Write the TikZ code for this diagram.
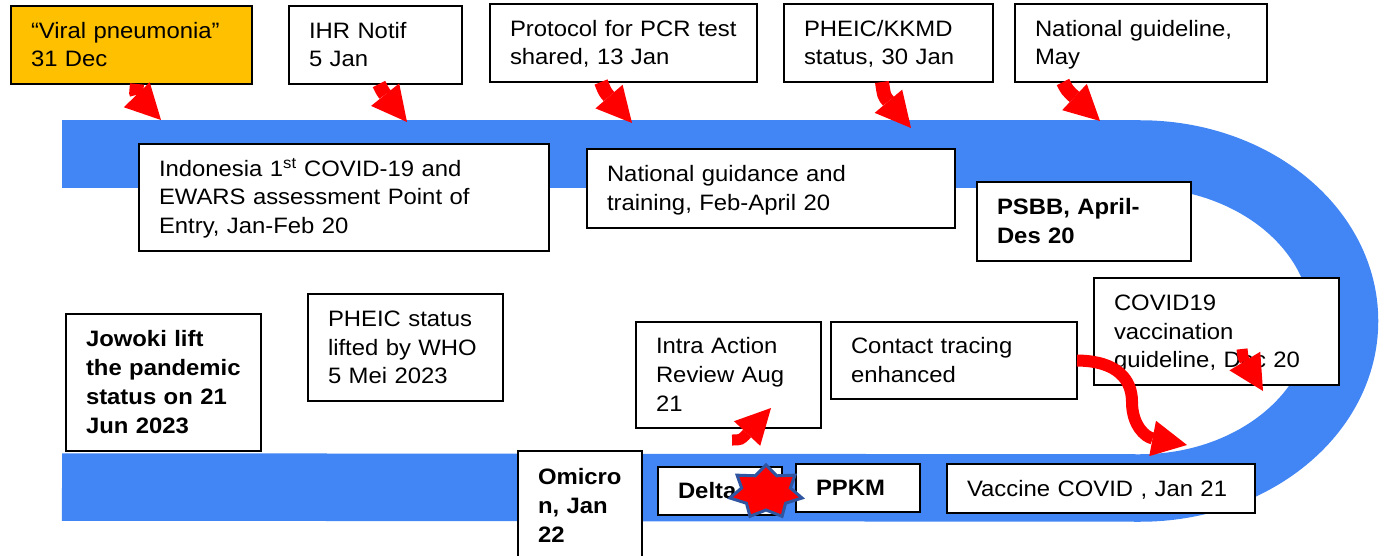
\documentclass[tikz,border=0pt]{standalone}
\usepackage{fontspec}
\setmainfont{Liberation Sans}[FakeStretch=1.07]
\usetikzlibrary{arrows.meta,calc}
\definecolor{bandblue}{RGB}{66,133,244}
\definecolor{gold}{RGB}{255,192,0}
\definecolor{starblue}{RGB}{47,85,160}
\newcommand\mystrut{\rule[-5pt]{0pt}{25pt}}
\begin{document}
\begin{tikzpicture}[x=1pt,y=-1pt,
  box/.style={draw=black, line width=1.5pt, fill=white, anchor=north west,
    inner xsep=20pt, inner ysep=0pt, outer sep=0pt, align=left,
    font=\fontsize{22.3}{28.8}\selectfont},
  boldbox/.style={box, font=\fontsize{22.3}{28.8}\selectfont\bfseries},
  redarrow/.style={draw=red, line width=14pt, -{Triangle[length=35pt,width=36pt,line width=0pt]}},
  thinarrow/.style={redarrow, line width=11pt},
]
\clip (0,0) rectangle (1380,556);
% blue U-shaped timeline band
\draw[bandblue, line width=67.5pt] (62,154) -- (1140,154)
  arc[start angle=-90, end angle=90, x radius=204.5, y radius=167] -- (62,487);

% top row
\node[box, fill=gold, text width=201pt, minimum height=78pt] (viral) at (11,6)
  {\mystrut “Viral pneumonia”\\31 Dec\mystrut};
\node[box, text width=133pt, minimum height=78pt] (ihr) at (289,6)
  {\mystrut IHR Notif\\5 Jan\mystrut};
\node[box, text width=227pt, minimum height=78pt] (pcr) at (490,4)
  {\mystrut Protocol for PCR test\\shared, 13 Jan\mystrut};
\node[box, text width=169pt, minimum height=78pt] (pheic) at (784,4)
  {\mystrut PHEIC/KKMD\\status, 30 Jan\mystrut};
\node[box, text width=212pt, minimum height=78pt] (guide) at (1015,4)
  {\mystrut National guideline,\\May\mystrut};

% second row
\node[box, text width=370pt, minimum height=107pt] (indo) at (139,144)
  {\mystrut Indonesia 1\textsuperscript{st} COVID-19 and\\EWARS assessment Point of\\Entry, Jan-Feb 20\mystrut};
\node[box, text width=328pt, minimum height=79pt] (natg) at (587,149)
  {\mystrut National guidance and\\training, Feb-April 20\mystrut};
\node[boldbox, text width=174pt, minimum height=79pt] (psbb) at (977,182)
  {\mystrut PSBB, April-\\Des 20\mystrut};

% middle row
\node[box, text width=205pt, minimum height=107pt] (vacg) at (1094,278)
  {\mystrut COVID19\\vaccination\\guideline, Dec 20\mystrut};
\node[box, text width=206pt, minimum height=77pt] (ct) at (831,322)
  {\mystrut Contact tracing\\enhanced\mystrut};
\node[box, text width=145pt, minimum height=106pt] (intra) at (636,322)
  {\mystrut Intra Action\\Review Aug\\21\mystrut};
\node[boldbox, text width=155pt, minimum height=137pt] (jow) at (66,314)
  {\mystrut Jowoki lift\\the pandemic\\status on 21\\Jun 2023\mystrut};
\node[box, text width=155pt, minimum height=107pt] (lift) at (308,294)
  {\mystrut PHEIC status\\lifted by WHO\\5 Mei 2023\mystrut};

% bottom row
\node[boldbox, text width=84pt, minimum height=110pt] (omi) at (518,451)
  {\mystrut Omicro\\n, Jan\\22\mystrut};
\node[boldbox, text width=84pt, minimum height=48pt] (delta) at (658,467)
  {\mystrut Delta\mystrut};
\node[boldbox, text width=84pt, minimum height=48pt] (ppkm) at (796,464)
  {\mystrut PPKM\mystrut};
\node[box, text width=268pt, minimum height=49pt] (vac) at (947,464)
  {\mystrut Vaccine COVID , Jan 21\mystrut};

% arrow end points on the band
\coordinate (t1) at (161,120);
\coordinate (t2) at (407,122);
\coordinate (t3) at (632,123);
\coordinate (t4) at (911,128);
\coordinate (t5) at (1100,121);
\coordinate (t6) at (1187,445);
\coordinate (t7) at (1263,391);
\coordinate (s7) at (1242,349);
\coordinate (s8) at (732,440);
\coordinate (t8) at (771,408);

\draw[redarrow] ($(viral.south west)+(126,0)$) .. controls (136,94) .. (t1);
\draw[redarrow] ($(ihr.south west)+(90,0)$) .. controls (383,92) .. (t2);
\draw[redarrow] ($(pcr.south west)+(111,0)$) .. controls (605,92) .. (t3);
\draw[redarrow] ($(pheic.south west)+(98,0)$) .. controls (884,96) .. (t4);
\draw[redarrow] ($(guide.south west)+(48,0)$) .. controls (1067,90) .. (t5);
\draw[redarrow, line width=12pt] (ct.east) .. controls (1118,361) and (1132,380) .. (1132,402)
  .. controls (1132,425) and (1145,437) .. (t6);
\draw[thinarrow] (s7) .. controls (1243,358) .. (t7);
\draw[thinarrow] (s8) .. controls (741,440) .. (t8);

% burst star
\path[fill=red, draw=starblue, line width=3pt]
  plot[samples at={0,...,13}, variable=\k]
  ({766+ifthenelse(mod(\k,2)==0,37,25)*cos(90+\k*360/14)},
   {492-ifthenelse(mod(\k,2)==0,27,18)*sin(90+\k*360/14)}) -- cycle;
\end{tikzpicture}
\end{document}
